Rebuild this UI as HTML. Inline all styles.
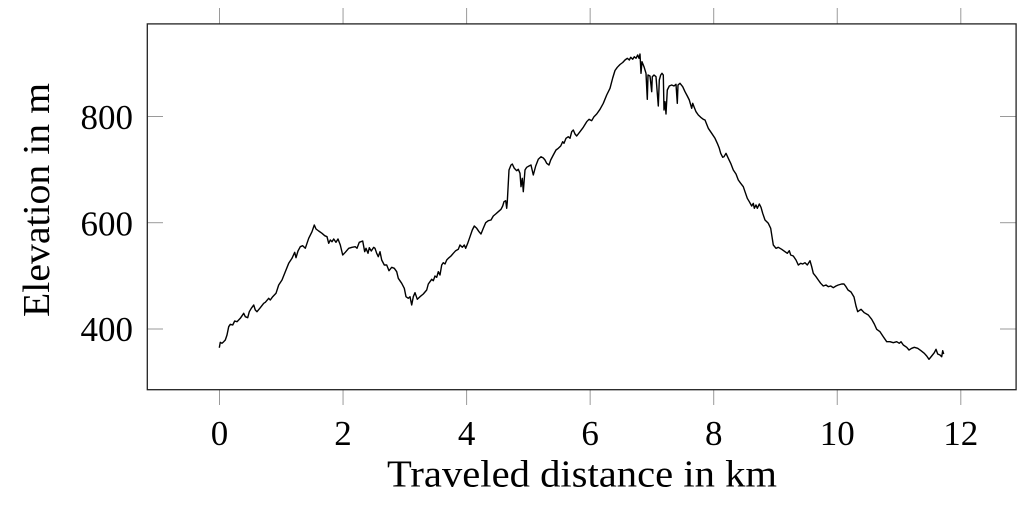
<!DOCTYPE html>
<html>
<head>
<meta charset="utf-8">
<style>
html,body{margin:0;padding:0;background:#fff;}
svg{display:block;}
text{font-family:"Liberation Serif","DejaVu Serif",serif;fill:#000;}
</style>
</head>
<body>
<svg width="1024" height="505" viewBox="0 0 1024 505" xmlns="http://www.w3.org/2000/svg">
<rect x="0" y="0" width="1024" height="505" fill="#fff"/>
<!-- x ticks (outside) -->
<g stroke="#9a9a9a" stroke-width="1">
<line x1="219.5" y1="8" x2="219.5" y2="23.7"/>
<line x1="343.05" y1="8" x2="343.05" y2="23.7"/>
<line x1="466.6" y1="8" x2="466.6" y2="23.7"/>
<line x1="590.15" y1="8" x2="590.15" y2="23.7"/>
<line x1="713.7" y1="8" x2="713.7" y2="23.7"/>
<line x1="837.25" y1="8" x2="837.25" y2="23.7"/>
<line x1="960.8" y1="8" x2="960.8" y2="23.7"/>
<line x1="219.5" y1="389.7" x2="219.5" y2="405"/>
<line x1="343.05" y1="389.7" x2="343.05" y2="405"/>
<line x1="466.6" y1="389.7" x2="466.6" y2="405"/>
<line x1="590.15" y1="389.7" x2="590.15" y2="405"/>
<line x1="713.7" y1="389.7" x2="713.7" y2="405"/>
<line x1="837.25" y1="389.7" x2="837.25" y2="405"/>
<line x1="960.8" y1="389.7" x2="960.8" y2="405"/>
<!-- y ticks (inside) -->
<line x1="147" y1="116.5" x2="163" y2="116.5"/>
<line x1="147" y1="222.7" x2="163" y2="222.7"/>
<line x1="147" y1="329" x2="163" y2="329"/>
<line x1="1000" y1="116.5" x2="1016" y2="116.5"/>
<line x1="1000" y1="222.7" x2="1016" y2="222.7"/>
<line x1="1000" y1="329" x2="1016" y2="329"/>
</g>
<!-- frame -->
<rect x="147.3" y="23.9" width="868.8" height="365.8" fill="none" stroke="#222" stroke-width="1.3"/>
<!-- curve -->
<polyline fill="none" stroke="#000" stroke-width="1.4" stroke-linejoin="round" points="
219.3,347.7 220.3,342.3 222,343.3 223.7,341.7 225.3,340 227,335 228.7,326.7 230.3,324.3 232.7,325 234.7,321 237,321.7 240.3,318.3 243.7,313.3 245.3,316.7 247.7,317.7 249.3,311.7 251.3,308.3 253.7,305 255.3,310 257,311.7 260.3,307.7 263.7,303.3 265.3,302.3 268.7,298.3 270.3,300 272.7,296.7 276,293.3 278.7,285 282,280 285.3,271.7 288.7,263.3 292,258.3 294.7,252.3 296,257.7 298,251 300.3,246.7 302.7,245.7 305.3,248.3 308.7,238.3 312,231.7 314.3,225 316,229 318.7,231 322,233.3 324.7,235.7 327,236.7 328.7,243.3 330.3,240 332,241.7 333.7,239 336,242.3 338,239 340.3,245 342.7,255 345.3,252.3 348.7,248.3 352,247.3 355.3,246.7 357,248.3 359.3,242.3 362.7,241 364.7,251.7 366,248.3 368,253.3 369.3,247.7 371.3,251 373.7,247.3
375,248.3 376.7,253.3 378.3,256.7 380,251.7 381.7,260 384.3,265 386.7,265 389,270.7 391.7,267.3 394.3,268.3 396.7,271.7 398.3,278.3 401.7,283.3 404.3,288.3 406,296.7 408.3,298.3 410,296.7 411.7,305 413.3,296.7 415,292.7 417.3,299.3 420,296.7 423.3,294 426.7,290 428.3,284 430,281.7 431.7,279.3 433.3,280.7 435,276 436.7,277.3 438.3,271.7 440,275 441.7,265 443.3,262.7 445,264 446.7,260 448.3,258.3 451,256 453.3,253.3 455.7,250.7 458.3,249.3 460,245 462.3,247.3 464.3,245 465.7,248.3 467.7,243.3 470,236.7 472.3,230 474.3,226 476.7,228.3 479,231.7 481,234 483.3,228.3 485.7,222.7 488.3,220.7 491,220 493.3,216 495.7,214 498.3,211.7 501,209.3 502.7,206 504,201.7 505.7,200.7 506.7,208.3 507.3,201.7 509,170 511,165 512.3,164 514.3,168.3 516.7,170.7 518.3,169.3 520,173.3 521,186.7 522.3,178.3 523.3,191.7 525,170 526.7,167.3 529,166 531,165 533.3,175 535.7,166 538.3,159.3 541,156.7
543.3,158 545,160 546.7,163.3 549,165 550.7,160 553.3,155 556,150 558.3,148.3 560.7,146 562.7,141.7 564,143.3 566,138.3 568.3,136.7 570,138.3 571.7,131.7 573.3,130 575,134 576.7,136 580,131.7 583.3,127.3 586.7,121.7 589,119.3 591.7,120.7 594,116.7 596.7,114 600,109.3 603.3,103.3 606.7,95 610,88.3 612.7,78 615,70.5 617.3,67.3 620,64.5 622.7,62.5 625,60 627.3,58.3 629.3,60 630.7,57.3 632.7,59.3 634.3,56.7 636,58.3 637.7,55 639,58.3 640,54 641,73.3 642,61.7 644,66.7 646,73.3 647.3,99.3 648,75 650,76 651.7,91.7 652.3,76.7 654,75 656,76.7 658.3,106 659.3,80 660.7,75 662,73.3 663.3,75 664,110 665,101.7 666,114 667.3,90 669.3,86 671.7,85 674,86 676,84.3 677.3,103.3 678,85 680,83.3 682.7,86.7 685,91.7 687.3,96 689.3,100 691.7,108.3 692.7,103.3 694,106.7 696,111.7 698.3,115 700.7,117.3 703.3,119.3
705,120 708.3,128.3 711.7,133.3 715,138.3 717.3,143.3 719.3,148.3 720.7,153.3 722.7,157.3 724,156.7 726,153.3 728.3,158.3 730.7,163.3 733.3,170 736,174 738.3,180 740.7,183.3 743.3,186.7 745,191.7 747.3,198.3 749.3,201.7 751.7,206 753.3,203.3 754.3,208.3 756,205 757.3,208.3 759.3,204 761,207.3 762.7,213.3 765,220 768.3,223.3 770.7,228.3 772,236.7 773.3,245 776,248.3 778.3,247.3 781.7,249.3 785,251.7 787.3,253.3 789.3,250.7 790.7,255 793.3,256 796,260 798.3,265 800.7,263.3 802.7,264 805,262.7 807.3,265 810,260.7 811.7,266.7 813.3,273.3 816,276.7 818.3,280 820.7,283.3 823.3,286 826,285 828.3,286.7 830.7,286 833.3,287.7 836,286 838.3,285 841.7,284 844,284 846,286.7 848,290 851,292 854,297 856,306
857.7,311.7 861,309.3 864.3,312.7 868.3,315 871.7,319.3 874.3,324 876.7,329.3 880,331.7 883.3,336.7 886.7,341.7 890,341.7 893.3,342.7 896.7,341.7 899.3,343.3 901,341.7 903.3,345 906.7,347.3 909,350 911.7,348.3 914.3,347.3 917.7,348.3 921,350.7 924.3,353.3 926.7,356 929,359.3 931.7,356 934.3,352.7 936,349.3 937.7,354 940,355 941.7,356.7 942.7,350.7 943.7,354"/>
<!-- x tick labels -->
<g font-size="35" text-anchor="middle">
<text x="219.5" y="445">0</text>
<text x="343.05" y="445">2</text>
<text x="466.6" y="445">4</text>
<text x="590.15" y="445">6</text>
<text x="713.7" y="445">8</text>
<text x="837.25" y="445">10</text>
<text x="960.8" y="445">12</text>
</g>
<!-- y tick labels -->
<g font-size="35" text-anchor="end">
<text x="133" y="129">800</text>
<text x="133" y="235.5">600</text>
<text x="133" y="341">400</text>
</g>
<!-- axis labels -->
<text x="582" y="486.7" font-size="38" text-anchor="middle" textLength="390" lengthAdjust="spacingAndGlyphs">Traveled distance in km</text>
<text transform="translate(49,200) rotate(-90)" x="0" y="0" font-size="38" text-anchor="middle" textLength="234" lengthAdjust="spacingAndGlyphs">Elevation in m</text>
</svg>
</body>
</html>
